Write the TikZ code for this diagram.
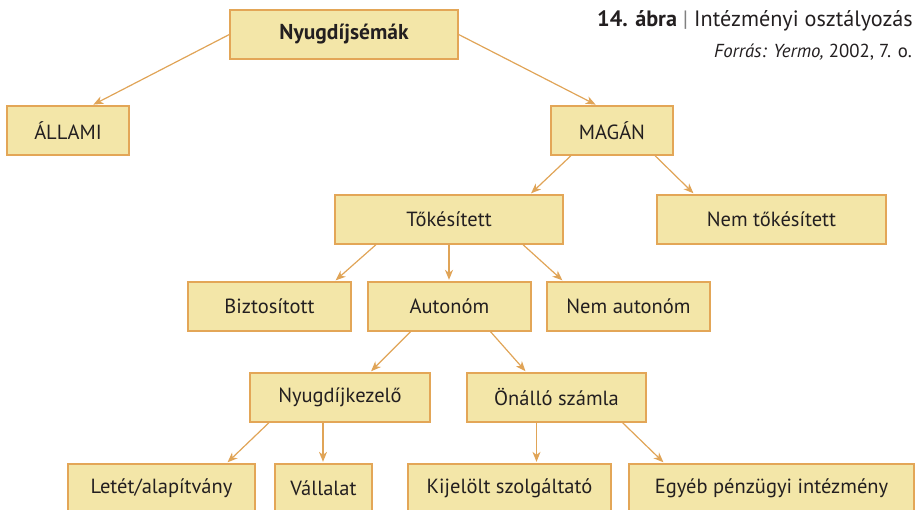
\documentclass[tikz,border=0pt]{standalone}
\usepackage{fontspec}
\setmainfont{PT Sans}
\usetikzlibrary{arrows.meta}
\definecolor{boxfill}{HTML}{F3E6A8}
\definecolor{boxline}{HTML}{E3A657}
\definecolor{arrowc}{HTML}{E0A457}
\definecolor{txt}{HTML}{231F20}
\tikzset{
  box/.style={draw=boxline, fill=boxfill, line width=1.3pt, minimum height=49pt,
    inner sep=0pt, text=txt, font=\fontsize{20.5}{22}\selectfont},
  conn/.style={draw=arrowc, line width=1.2pt, -{Stealth[length=10pt,width=8pt,inset=3pt]}, shorten >=1.5pt},
}
\begin{document}
\begin{tikzpicture}[x=1pt,y=-1pt]
\useasboundingbox (0,0) rectangle (916,510);
\clip (0,0) rectangle (916,510);
% caption
\node[anchor=base east, inner sep=0pt, text=txt, font=\fontsize{22.2}{24}\selectfont] (cap1) at (913,27)
  {\textbf{14. ábra} \textcolor{gray}{|} Intézményi osztályozás};
\node[anchor=base east, inner sep=0pt, text=txt, font=\fontsize{18.8}{20}\selectfont] (cap2) at (912,58)
  {\textit{Forrás: Yermo,} 2002, 7. o.};
% boxes
\node[box, minimum width=228pt, font=\fontsize{21.5}{24}\selectfont\bfseries] (root) at (344,34.5) {Nyugdíjsémák};
\node[box, minimum width=122pt] (allami) at (68,130.5) {ÁLLAMI};
\node[box, minimum width=122pt] (magan) at (612,130.5) {MAGÁN};
\node[box, minimum width=228pt] (toke) at (449,219.5) {Tőkésített};
\node[box, minimum width=229pt] (nemtoke) at (771.5,219.5) {Nem tőkésített};
\node[box, minimum width=163pt] (bizt) at (269.5,306.5) {Biztosított};
\node[box, minimum width=163pt] (auton) at (449.5,306.5) {Autonóm};
\node[box, minimum width=163pt] (nemaut) at (628.5,306.5) {Nem autonóm};
\node[box, minimum width=180pt] (nyk) at (340,397.5) {Nyugdíjkezelő};
\node[box, minimum width=179pt] (onallo) at (556.5,397.5) {Önálló számla};
\node[box, minimum width=187pt] (letet) at (161.5,488.5) {Letét/alapítvány};
\node[box, minimum width=97pt] (vall) at (323.5,488.5) {Vállalat};
\node[box, minimum width=203pt] (kij) at (509.5,488.5) {Kijelölt szolgáltató};
\node[box, minimum width=285pt] (egyeb) at (771.5,488.5) {Egyéb pénzügyi intézmény};
% connectors
\draw[conn] (root.west) -- ([xshift=24pt]allami.north);
\draw[conn] (root.east) -- ([xshift=-15pt]magan.north);
\draw[conn] ([xshift=-41pt]magan.south) -- ([xshift=81pt]toke.north);
\draw[conn] ([xshift=43pt]magan.south) -- ([xshift=-77pt]nemtoke.north);
\draw[conn] ([xshift=-73pt]toke.south) -- ([xshift=65pt]bizt.north);
\draw[conn] (toke.south) -- ([xshift=-0.5pt]auton.north);
\draw[conn] ([xshift=74pt]toke.south) -- ([xshift=-65pt]nemaut.north);
\draw[conn] ([xshift=-39pt]auton.south) -- ([xshift=30pt]nyk.north);
\draw[conn] ([xshift=41pt]auton.south) -- ([xshift=-30pt]onallo.north);
\draw[conn] ([xshift=-71pt]nyk.south) -- ([xshift=65pt]letet.north);
\draw[conn] ([xshift=-17pt]nyk.south) -- ([xshift=-0.5pt]vall.north);
\draw[conn] ([xshift=-20pt]onallo.south) -- ([xshift=27pt]kij.north);
\draw[conn] ([xshift=66pt]onallo.south) -- ([xshift=-107pt]egyeb.north);
\end{tikzpicture}
\end{document}
